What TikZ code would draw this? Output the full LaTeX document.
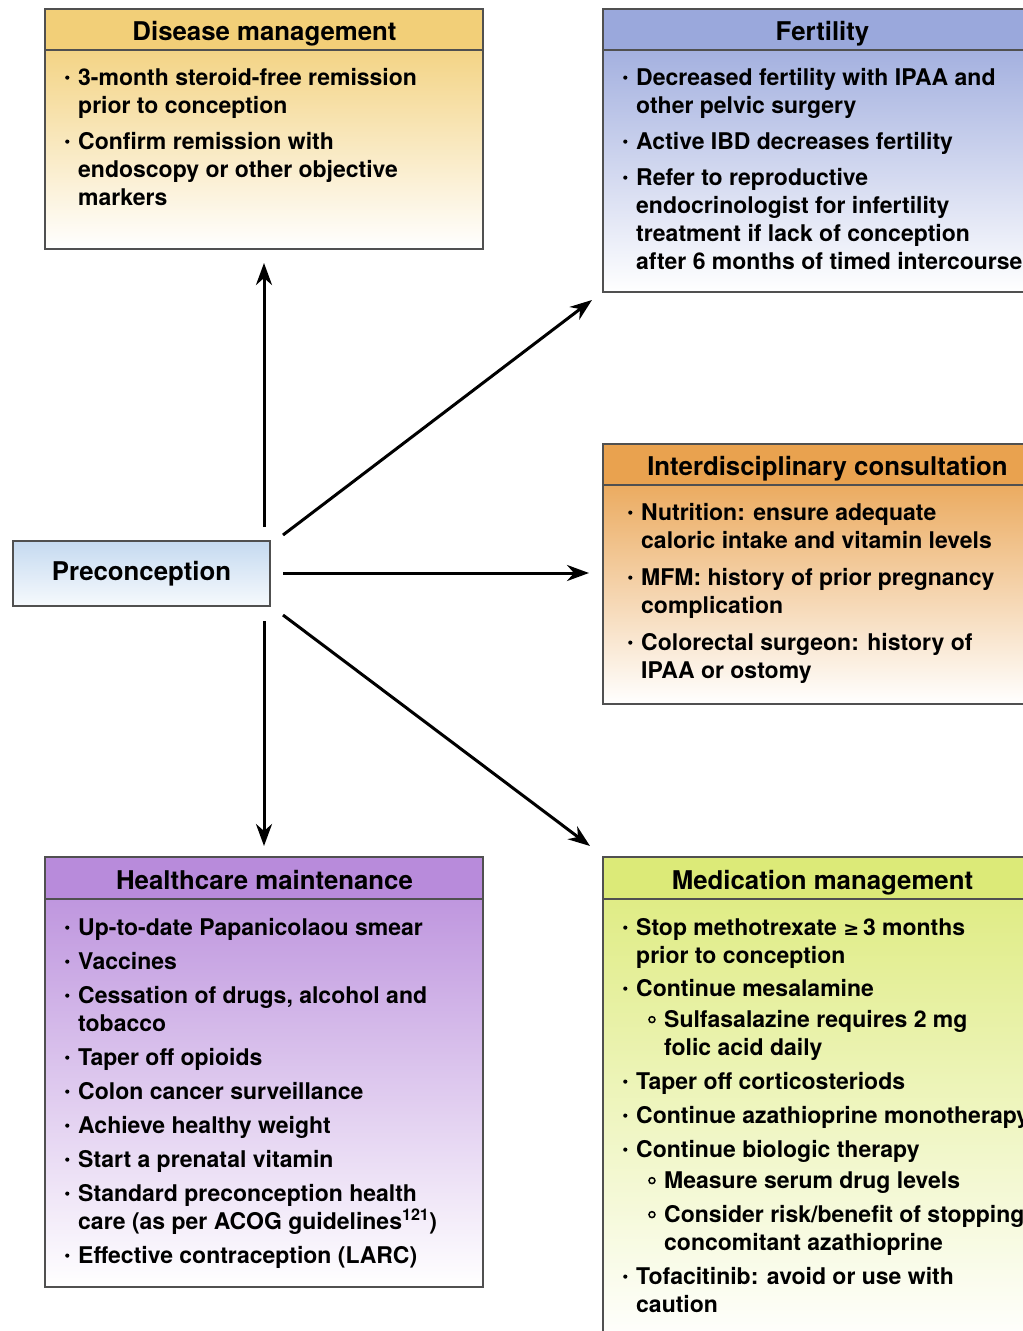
\documentclass[tikz,border=0pt]{standalone}
\usepackage{fontspec}
\setmainfont{TeX Gyre Heros}
\newfontfamily\dejavu{DejaVu Sans}
\usetikzlibrary{arrows.meta}
\definecolor{dmc}{HTML}{F2CF78}
\definecolor{fec}{HTML}{9AA8DC}
\definecolor{icc}{HTML}{E9A24F}
\definecolor{hmc}{HTML}{B88BDB}
\definecolor{mmc}{HTML}{DCEA78}
\definecolor{prc}{HTML}{C5DAF0}
\definecolor{edge}{HTML}{505050}
\newcommand\bul{\makebox[13pt][l]{\tikz[baseline=0pt]\fill[black] (2pt,7.6pt) circle[radius=2.1pt];}}
\newcommand\ind{\hspace*{13pt}}
\newcommand\sbul{\hspace*{25pt}\makebox[16pt][l]{\tikz[baseline=0pt]\draw[black,line width=1.5pt] (3.6pt,7.6pt) circle[radius=3pt];}}
\newcommand\sind{\hspace*{41pt}}
\begin{document}
\begin{tikzpicture}[x=1pt,y=-1pt,
  boxline/.style={draw=edge,line width=1.5pt},
  body/.style={anchor=north west,inner sep=0pt,align=left,font=\bfseries\fontsize{23}{28}\selectfont},
  head/.style={anchor=base,inner sep=0pt,font=\bfseries\fontsize{25.8}{30}\selectfont},
  conn/.style={line width=3pt,-{Stealth[length=22pt,width=16pt,inset=7pt]}}]
\useasboundingbox (0,0) rectangle (1023,1331);
\clip (0,0) rectangle (1023,1331);
\fill[white] (0,0) rectangle (1023,1331);

% Disease management
\path[top color=dmc!90!white,bottom color=white] (45,50) rectangle (483,249);
\fill[dmc] (45,9) rectangle (483,50);
\draw[boxline] (45,9) rectangle (483,249);
\draw[boxline] (45,50) -- (483,50);
\node[head] (dmh) at (264.5,40) {Disease management};
\node[body] (dmb) at (65,65.4) {\strut\bul 3-month steroid-free remission\\\ind prior to conception\\[8pt]
\bul Confirm remission with\\\ind endoscopy or other objective\\\ind markers};

% Fertility
\path[top color=fec!90!white,bottom color=white] (603,50) rectangle (1042,292);
\fill[fec] (603,9) rectangle (1042,50);
\draw[boxline] (603,9) rectangle (1042,292);
\draw[boxline] (603,50) -- (1042,50);
\node[head] (feh) at (822.5,40) {Fertility};
\node[body] (feb) at (623,65.4) {\strut\bul Decreased fertility with IPAA and\\\ind other pelvic surgery\\[8pt]
\bul Active IBD decreases fertility\\[8pt]
\bul Refer to reproductive\\\ind endocrinologist for infertility\\\ind treatment if lack of conception\\\ind after 6 months of timed intercourse};

% Interdisciplinary consultation
\path[top color=icc!90!white,bottom color=white] (603,485) rectangle (1052,704);
\fill[icc] (603,444) rectangle (1052,485);
\draw[boxline] (603,444) rectangle (1052,704);
\draw[boxline] (603,485) -- (1052,485);
\node[head] (ich) at (827.5,475) {Interdisciplinary consultation};
\node[body] (icb) at (628,500.4) {\strut\bul Nutrition: ensure adequate\\\ind caloric intake and vitamin levels\\[9pt]
\bul MFM: history of prior pregnancy\\\ind complication\\[9pt]
\bul Colorectal surgeon: history of\\\ind IPAA or ostomy};

% Healthcare maintenance
\path[top color=hmc!90!white,bottom color=white] (45,899) rectangle (483,1287);
\fill[hmc] (45,857) rectangle (483,899);
\draw[boxline] (45,857) rectangle (483,1287);
\draw[boxline] (45,899) -- (483,899);
\node[head] (hmh) at (264.5,889) {Healthcare maintenance};
\node[body] (hmb) at (65,915.4) {\strut\bul Up-to-date Papanicolaou smear\\[6pt]
\bul Vaccines\\[6pt]
\bul Cessation of drugs, alcohol and\\\ind tobacco\\[6pt]
\bul Taper off opioids\\[6pt]
\bul Colon cancer surveillance\\[6pt]
\bul Achieve healthy weight\\[6pt]
\bul Start a prenatal vitamin\\[6pt]
\bul Standard preconception health\\\ind care (as per ACOG guidelines\textsuperscript{121})\\[6pt]
\bul Effective contraception (LARC)};

% Medication management
\path[top color=mmc!90!white,bottom color=white] (603,899) rectangle (1042,1345);
\fill[mmc] (603,857) rectangle (1042,899);
\draw[boxline] (603,857) rectangle (1042,1345);
\draw[boxline] (603,899) -- (1042,899);
\node[head] (mmh) at (822.5,889) {Medication management};
\node[body] (mmb) at (623,915.4) {\strut\bul Stop methotrexate {\dejavu\fontsize{19}{28}\selectfont ≥}\,3 months\\\ind prior to conception\\[5pt]
\bul Continue mesalamine\\[3pt]
\sbul Sulfasalazine requires 2 mg\\\sind folic acid daily\\[6pt]
\bul Taper off corticosteriods\\[6pt]
\bul Continue azathioprine monotherapy\\[6pt]
\bul Continue biologic therapy\\[3pt]
\sbul Measure serum drug levels\\[6pt]
\sbul Consider risk/benefit of stopping\\\sind concomitant azathioprine\\[6pt]
\bul Tofacitinib: avoid or use with\\\ind caution};

% Preconception
\node[boxline,top color=prc,bottom color=prc!15!white,minimum width=257pt,minimum height=65pt,inner sep=0pt] (pre) at (141.5,573.5) {};
\node[head] (preh) at (141.5,580.5) {Preconception};

% connectors
\coordinate (upS) at (264,527);   \coordinate (upE) at (264,263);
\coordinate (dnS) at (264,621);   \coordinate (dnE) at (264,846);
\coordinate (nuS) at (283,535);   \coordinate (nuE) at (592,300);
\coordinate (rtS) at (283,573);   \coordinate (rtE) at (589,573);
\coordinate (sdS) at (283,615);   \coordinate (sdE) at (590,846);
\draw[conn] (upS) -- (upE);
\draw[conn] (dnS) -- (dnE);
\draw[conn] (nuS) -- (nuE);
\draw[conn] (rtS) -- (rtE);
\draw[conn] (sdS) -- (sdE);
\end{tikzpicture}
\end{document}
